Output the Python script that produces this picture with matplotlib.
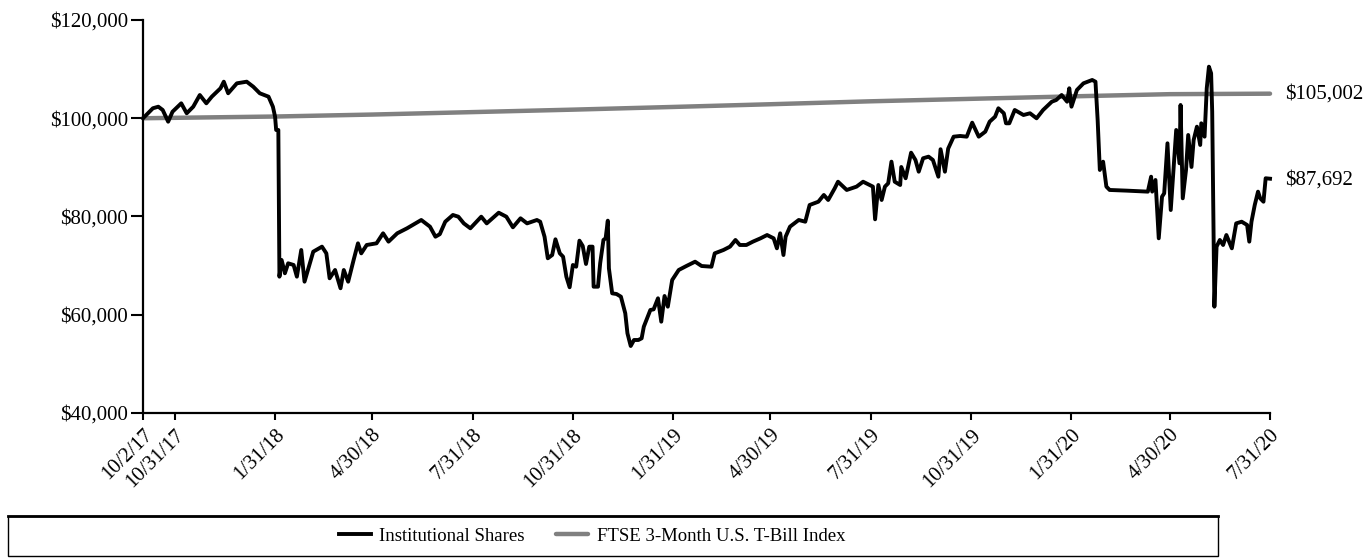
import matplotlib
matplotlib.use("Agg")
import matplotlib.pyplot as plt
import matplotlib.patches as mpatches
import matplotlib.lines as mlines
import numpy as np

plt.rcParams['font.family'] = ['Liberation Serif', 'DejaVu Serif']

start_date = np.datetime64('2017-10-02')

# Institutional Shares: days after 10/2/17 and growth of $100,000
fund_days = [0, 9, 14, 18, 23, 27, 35, 40, 46, 52, 58, 63, 71, 74, 78, 86, 95, 101, 107, 115,
             119, 121, 122, 124, 125, 127, 130, 133, 138, 141, 145, 148, 156, 164, 168, 171, 176,
             181, 184, 188, 193, 197, 200, 205, 214, 220, 225, 233, 242, 255, 263, 268, 272, 277,
             284, 289, 294, 300, 310, 315, 326, 333, 339, 346, 352, 361, 364, 368, 371, 375, 378,
             382, 385, 388, 391, 394, 397, 400, 403, 406, 409, 412, 413, 417, 419, 422, 424, 426,
             427, 430, 434, 438, 442, 444, 447, 450, 454, 457, 459, 465, 468, 472, 475, 478, 481,
             485, 491, 498, 506, 512, 521, 524, 532, 538, 543, 547, 553, 559, 566, 572, 578, 581,
             584, 587, 589, 593, 601, 607, 611, 619, 624, 628, 634, 637, 645, 654, 660, 666, 669,
             671, 674, 677, 680, 683, 686, 689, 694, 695, 699, 704, 708, 711, 715, 720, 724, 729,
             731, 735, 738, 743, 749, 755, 760, 766, 772, 776, 781, 784, 789, 791, 794, 799, 807,
             813, 819, 825, 833, 837, 842, 847, 849, 851, 856, 862, 870, 873, 875, 877, 880, 883,
             886, 902, 921, 924, 925, 928, 931, 934, 936, 939, 942, 944, 947, 950, 951, 953, 956,
             958, 961, 963, 966, 969, 970, 973, 975, 977, 979, 980, 982, 984, 987, 990, 993, 998,
             1002, 1007, 1012, 1014, 1016, 1019, 1022, 1024, 1027, 1029, 1033]
fund_values = [100000, 102030, 102350, 101680, 99300, 101330, 103040, 101010, 102350, 104730,
               103040, 104390, 106100, 107440, 105080, 107110, 107440, 106420, 105080, 104390,
               102350, 100320, 97610, 97610, 67750, 71150, 68440, 70470, 70130, 67750, 73180,
               66730, 72840, 73860, 72500, 67420, 69110, 65390, 69110, 66730, 71150, 74540, 72500,
               74200, 74540, 76580, 74880, 76580, 77600, 79290, 77930, 75890, 76400, 78940, 80310,
               79960, 78600, 77600, 79960, 78600, 80770, 79960, 77800, 79630, 78600, 79290, 78940,
               75890, 71490, 72160, 75360, 72500, 71820, 67750, 65590, 70130, 69780, 75080, 74000,
               70330, 73860, 73860, 65710, 65710, 70470, 75220, 75560, 79150, 69460, 64360, 64220,
               63680, 60300, 56220, 53640, 54860, 54860, 55200, 57570, 60970, 61100, 63350, 58590,
               63820, 61640, 67070, 69110, 69920, 70800, 69920, 69780, 72500, 73180, 73860, 75220,
               74200, 74200, 74880, 75560, 76230, 75560, 73520, 76580, 72160, 75890, 77930, 79290,
               78940, 82340, 83010, 84380, 83360, 85740, 87080, 85400, 86080, 87080, 86410, 86080,
               79430, 86410, 83360, 86080, 86750, 91160, 87080, 86410, 90080, 87780, 92990, 91500,
               89120, 91850, 92180, 91500, 88100, 93690, 89120, 93830, 96250, 96390, 96250, 99100,
               96250, 97270, 99300, 100320, 102030, 101010, 98970, 98970, 101680, 100660, 101010,
               99990, 101680, 103370, 103710, 104730, 103370, 106100, 102350, 105750, 107110,
               107790, 107440, 99640, 89470, 91160, 86080, 85400, 85260, 85060, 88100, 85060,
               87430, 75560, 84030, 84720, 94900, 81320, 87780, 97610, 90830, 102700, 83700, 89470,
               96590, 90080, 95570, 98290, 94560, 98970, 96250, 106100, 110500, 109150, 101330,
               61640, 73860, 75220, 74200, 76230, 73520, 78600, 78940, 78270, 74880, 78940, 82340,
               85060, 83700, 83010, 87780, 87692]

# FTSE 3-Month U.S. T-Bill Index
index_dates = ['2017-10-02', '2018-01-31', '2018-04-30', '2018-07-31', '2018-10-31',
               '2019-01-31', '2019-04-30', '2019-07-31', '2019-10-31', '2020-01-31',
               '2020-04-30', '2020-07-31']
index_values = [100000, 100350, 100750, 101250, 101750, 102300, 102850, 103450, 103950,
                104450, 104900, 105002]

tick_dates = ['2017-10-02', '2017-10-31', '2018-01-31', '2018-04-30', '2018-07-31',
              '2018-10-31', '2019-01-31', '2019-04-30', '2019-07-31', '2019-10-31',
              '2020-01-31', '2020-04-30', '2020-07-31']
tick_labels = ['10/2/17', '10/31/17', '1/31/18', '4/30/18', '7/31/18', '10/31/18', '1/31/19',
               '4/30/19', '7/31/19', '10/31/19', '1/31/20', '4/30/20', '7/31/20']
y_ticks = [40000, 60000, 80000, 100000, 120000]

fund_x = (start_date + np.array(fund_days, dtype='timedelta64[D]')).astype('datetime64[D]').astype(object)
index_x = np.array(index_dates, dtype='datetime64[D]').astype(object)
ticks_x = np.array(tick_dates, dtype='datetime64[D]').astype(object)

fig = plt.figure(figsize=(13.69, 5.6), dpi=100)
ax = fig.add_axes([0.1045, 0.2625, 0.8232, 0.7018])

ax.plot(index_x, index_values, color='#808080', lw=3.2, solid_capstyle='round', zorder=2, clip_on=False,
        label='FTSE 3-Month U.S. T-Bill Index')
ax.plot(fund_x, fund_values, color='black', lw=2.8, solid_joinstyle='round', zorder=3, clip_on=False,
        label='Institutional Shares')

ax.set_xlim(ticks_x[0], ticks_x[-1])
ax.set_ylim(40000, 120000)
ax.set_yticks(y_ticks)
ax.set_yticklabels(['${:,}'.format(v) for v in y_ticks], fontsize=15)
ax.set_xticks(ticks_x)
ax.set_xticklabels(tick_labels, rotation=45, ha='right', rotation_mode='anchor', fontsize=15)
ax.tick_params(axis='y', length=9, width=1.5, direction='out', pad=2)
ax.tick_params(axis='x', length=5, width=1.5, direction='out', pad=4)

for s in ['top', 'right']:
    ax.spines[s].set_visible(False)
for s in ['left', 'bottom']:
    ax.spines[s].set_linewidth(1.6)

# end labels
ax.annotate('${:,}'.format(index_values[-1]), xy=(index_x[-1], index_values[-1]), xytext=(11, 0),
            textcoords='offset points', va='center', ha='left', fontsize=15, annotation_clip=False)
ax.annotate('${:,}'.format(fund_values[-1]), xy=(fund_x[-1], fund_values[-1]), xytext=(11, -1),
            textcoords='offset points', va='center', ha='left', fontsize=15, annotation_clip=False)

# legend box (top border heavier)
box = mpatches.Rectangle((8 / 1369, 4 / 560), 1210 / 1369, 40 / 560, transform=fig.transFigure,
                         fill=False, edgecolor='black', lw=1.0)
fig.patches.append(box)
fig.lines.append(mlines.Line2D([8 / 1369, 1218 / 1369], [44 / 560, 44 / 560],
                               transform=fig.transFigure, color='black', lw=2.0))
handles, labels = ax.get_legend_handles_labels()
fig.legend(handles[::-1], labels[::-1], loc='center', bbox_to_anchor=(592 / 1369, 24 / 560),
           ncol=2, frameon=False, fontsize=13.5, handlelength=1.7, handletextpad=0.45,
           columnspacing=1.7)

fig.savefig('out.png', dpi=100)
